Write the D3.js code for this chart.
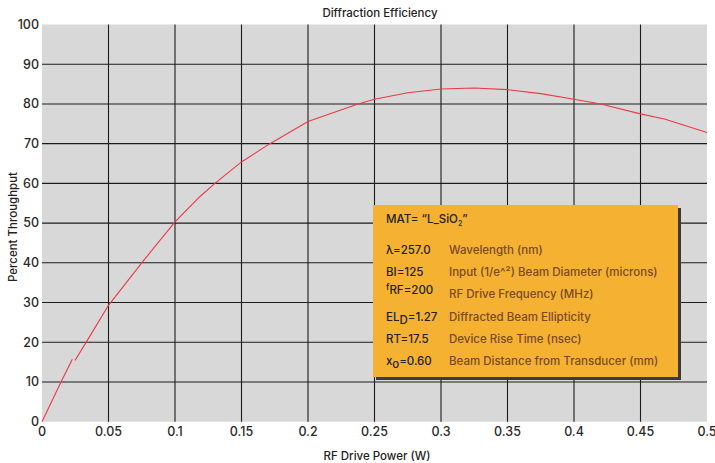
<!DOCTYPE html>
<html><head><meta charset="utf-8">
<script src="https://cdn.jsdelivr.net/npm/d3@7"></script>
<style>
body{margin:0;background:#fff;}
text{font-family:"Inter","Roboto",sans-serif;}
</style></head>
<body><svg id="c" width="715" height="463"></svg>
<script>
const title = "Diffraction Efficiency";
const xLabel = "RF Drive Power (W)";
const yLabel = "Percent Throughput";
const xTicks = [0,0.05,0.1,0.15,0.2,0.25,0.3,0.35,0.4,0.45,0.5];
const xTickLabels = ["0","0.05","0.1","0.15","0.2","0.25","0.3","0.35","0.4","0.45","0.5"];
const yTicks = [0,10,20,30,40,50,60,70,80,90,100];
// curve drawn in two pieces (the reference has a small break near 0.024 W)
const power1 = [0,0.0143,0.0228];
const thru1  = [0,10,15.7];
const power2 = [0.0248,0.0343,0.05,0.075,0.1,0.1188,0.13,0.15,0.1714,0.2,0.2376,0.25,0.275,0.3,0.325,0.35,0.375,0.4,0.42,0.45,0.468,0.5];
const thru2  = [15.4,20.6,29.3,40,50.3,56.7,60,65.4,70,75.6,80,81.2,82.8,83.75,84.0,83.6,82.6,81.2,80,77.5,76.2,72.8];
const legendTitle = ["MAT= “L_SiO", "2", "”"];
const legendSym = [["λ=257.0"],["BI=125"],["f","RF=200"],["EL","D","=1.27"],["RT=17.5"],["x","o","=0.60"]];
const legendDesc = ["Wavelength (nm)","Input (1/e^²) Beam Diameter (microns)","RF Drive Frequency (MHz)","Diffracted Beam Ellipticity","Device Rise Time (nsec)","Beam Distance from Transducer (mm)"];

const svg = d3.select("#c");
const L=42, R=707, T=24.5, B=421.7;
const x = d3.scaleLinear().domain([0,0.5]).range([L,R]);
const y = d3.scaleLinear().domain([0,100]).range([B,T]);

svg.append("rect").attr("x",L).attr("y",T).attr("width",R-L).attr("height",B-T).attr("fill","#d9d8d8");

const g = svg.append("g");
g.selectAll("line.v").data(xTicks.filter(d=>d>0&&d<0.5)).join("line")
 .attr("x1",d=>x(d)).attr("x2",d=>x(d)).attr("y1",T).attr("y2",B)
 .attr("stroke","#1c1c1c").attr("stroke-width",1.1);
g.selectAll("line.h").data(yTicks.filter(d=>d>0&&d<100)).join("line")
 .attr("y1",d=>y(d)).attr("y2",d=>y(d)).attr("x1",L).attr("x2",R)
 .attr("stroke","#1c1c1c").attr("stroke-width",1.1);

const line = d3.line().x(d=>x(d[0])).y(d=>y(d[1]));
[[power1,thru1],[power2,thru2]].forEach(([p,t])=>{
  svg.append("path").datum(p.map((v,i)=>[v,t[i]])).attr("d",line)
   .attr("fill","none").attr("stroke","#ea3a47").attr("stroke-width",1.1);
});

// axes labels
svg.selectAll("text.yt").data(yTicks).join("text")
 .attr("x",39).attr("y",d=>y(d)).attr("dy","0.35em").attr("text-anchor","end")
 .attr("font-size",12.5).attr("font-weight",500).attr("fill","#2a2a2a").text(d=>d);
svg.selectAll("text.xt").data(xTicks).join("text")
 .attr("x",d=>x(d)).attr("y",432).attr("dy","0.35em").attr("text-anchor","middle")
 .attr("font-size",12.5).attr("font-weight",500).attr("fill","#2a2a2a").text((d,i)=>xTickLabels[i]);

svg.append("text").attr("x",380).attr("y",13).attr("dy","0.35em").attr("text-anchor","middle")
 .attr("font-size",11.5).attr("font-weight",500).attr("fill","#222").text(title);
svg.append("text").attr("x",377).attr("y",456).attr("dy","0.35em").attr("text-anchor","middle")
 .attr("font-size",11.5).attr("font-weight",500).attr("fill","#222").text(xLabel);
svg.append("text").attr("transform","translate(13,227) rotate(-90)").attr("dy","0.35em").attr("text-anchor","middle")
 .attr("font-size",11.5).attr("font-weight",500).attr("fill","#222").text(yLabel);

// legend box
const lx=373, ly=205, lw=305, lh=172;
svg.append("rect").attr("x",lx+3).attr("y",ly+3).attr("width",lw).attr("height",lh).attr("fill","#3a3a3a");
svg.append("rect").attr("x",lx).attr("y",ly).attr("width",lw).attr("height",lh).attr("fill","#f5b132");
const lt = svg.append("text").attr("x",386).attr("y",219).attr("dy","0.35em")
 .attr("font-size",11.5).attr("font-weight",500).attr("fill","#222");
lt.append("tspan").text(legendTitle[0]);
lt.append("tspan").attr("font-size",7).attr("dy",3).text(legendTitle[1]);
lt.append("tspan").attr("dy",-3).text(legendTitle[2]);

const rowY=[250,272,294,317,339,361];
legendSym.forEach((s,i)=>{
  const t = svg.append("text").attr("x",386).attr("y",rowY[i]).attr("dy","0.35em")
   .attr("font-size",11.5).attr("font-weight",500).attr("fill","#222");
  if(s.length===1){ t.text(s[0]); }
  else if(s.length===2){
    t.append("tspan").attr("font-size",9).attr("dy",-4).text(s[0]);
    t.append("tspan").attr("dy",4).text(s[1]);
  } else {
    t.append("tspan").text(s[0]);
    t.append("tspan").attr("dy",3).text(s[1]);
    t.append("tspan").attr("dy",-3).text(s[2]);
  }
  svg.append("text").attr("x",449).attr("y",rowY[i]).attr("dy","0.35em")
   .attr("font-size",11.5).attr("font-weight",500).attr("fill","#7a4a22").text(legendDesc[i]);
});
</script></body></html>
